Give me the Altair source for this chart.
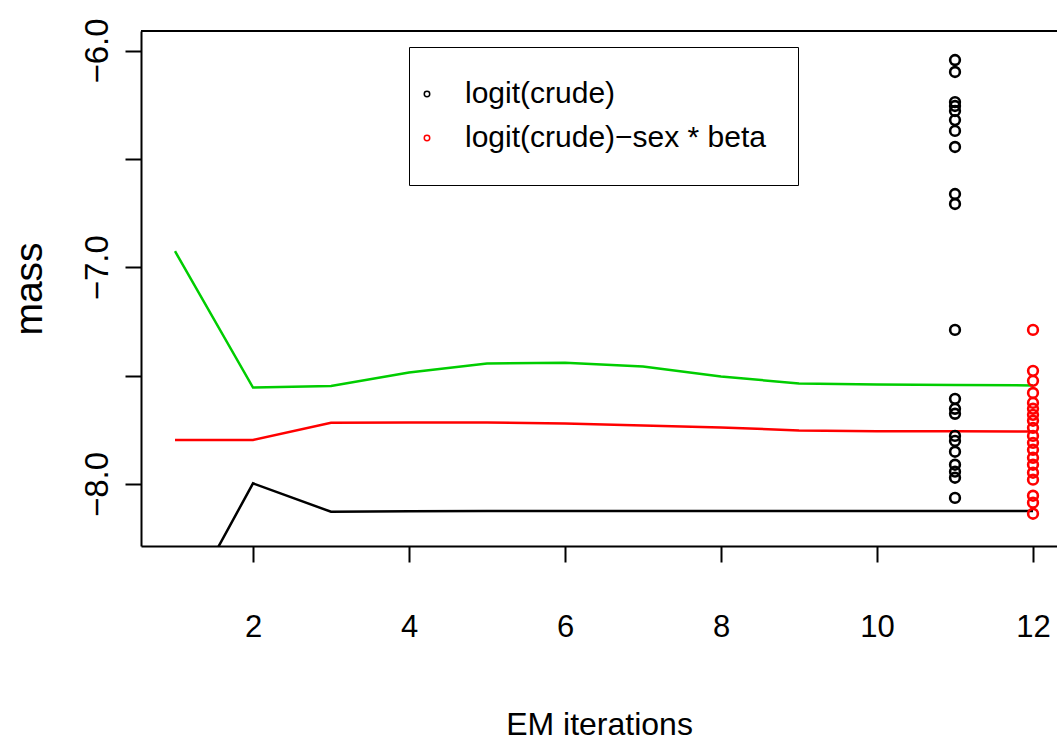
import altair as alt
import pandas as pd

# ---- data ----
iterations = [1, 2, 3, 4, 5, 6, 7, 8, 9, 10, 11, 12]
line_black = [-8.656, -7.997, -8.128, -8.126, -8.125, -8.125, -8.125, -8.125, -8.125, -8.125, -8.125, -8.125]
line_red = [-7.797, -7.797, -7.717, -7.716, -7.716, -7.721, -7.730, -7.739, -7.753, -7.757, -7.757, -7.758]
line_green = [-6.926, -7.555, -7.548, -7.486, -7.444, -7.440, -7.458, -7.504, -7.536, -7.541, -7.543, -7.545]

crude_x = 11
crude_vals = [-6.044, -6.099, -6.238, -6.256, -6.279, -6.321, -6.371, -6.445, -6.662, -6.708,
              -7.289, -7.607, -7.653, -7.676, -7.778, -7.801, -7.851, -7.911, -7.943, -7.971, -8.064]
adj_x = 12
adj_vals = [-7.289, -7.478, -7.524, -7.580, -7.626, -7.653, -7.681, -7.708, -7.741, -7.778,
            -7.810, -7.842, -7.879, -7.911, -7.948, -7.980, -8.054, -8.086, -8.137]

series_names = ["logit(crude)", "logit(crude)\u2212sex * beta"]
series_colors = ["black", "red"]

x_ticks = [2, 4, 6, 8, 10, 12]
y_ticks = [-8.0, -7.5, -7.0, -6.5, -6.0]

# ---- tables ----
lines = pd.concat([
    pd.DataFrame({"iter": iterations, "mass": line_black, "line": "black"}),
    pd.DataFrame({"iter": iterations, "mass": line_red, "line": "red"}),
    pd.DataFrame({"iter": iterations, "mass": line_green, "line": "green"}),
])
pts = pd.concat([
    pd.DataFrame({"iter": crude_x, "mass": crude_vals, "series": series_names[0]}),
    pd.DataFrame({"iter": adj_x, "mass": adj_vals, "series": series_names[1]}),
])

FONT = "Liberation Sans Narrow, Arial Narrow, Liberation Sans"
W, H = 916, 515

# plot box runs past the right edge of the picture (as in the reference)
xscale = alt.Scale(domain=[0.564, 0.564 + W / 78.0], nice=False, zero=False)
yscale = alt.Scale(domain=[-8.286, -5.910], nice=False, zero=False)

xaxis = alt.Axis(values=x_ticks, title="EM iterations", grid=False, format="d",
                 domain=True, domainColor="black", domainWidth=2,
                 tickColor="black", tickWidth=2, tickSize=16,
                 labelFont=FONT, labelFontSize=31, labelColor="black",
                 labelPadding=65, labelFlush=False, labelBaseline="middle",
                 titleFont=FONT, titleFontSize=32, titleFontWeight="normal",
                 titleColor="black", titleY=178, titleBaseline="middle")
yaxis = alt.Axis(values=y_ticks, title="mass", grid=False,
                 domain=True, domainColor="black", domainWidth=2,
                 tickColor="black", tickWidth=2, tickSize=16,
                 labelExpr="datum.value % 1 == 0 ? '\u2212' + format(abs(datum.value), '.1f') : ''",
                 labelFont="Liberation Sans", labelFontSize=33, labelColor="black",
                 labelAngle=-90, labelAlign="center", labelBaseline="middle",
                 labelPadding=28, labelFlush=False,
                 titleFont="Liberation Sans", titleFontSize=39, titleFontWeight="normal",
                 titleColor="black", titleX=-112, titleBaseline="middle", titleAngle=-90)

line_layer = alt.Chart(lines).mark_line(strokeWidth=2.5, clip=True).encode(
    x=alt.X("iter:Q", scale=xscale, axis=xaxis),
    y=alt.Y("mass:Q", scale=yscale, axis=yaxis),
    color=alt.Color("line:N", scale=alt.Scale(domain=["black", "red", "green"],
                                              range=["black", "red", "#00cd00"]), legend=None),
    detail="line:N",
)

point_layer = alt.Chart(pts).mark_point(shape="circle", filled=False, size=95, strokeWidth=2.6,
                                        opacity=1, clip=True).encode(
    x=alt.X("iter:Q", scale=xscale),
    y=alt.Y("mass:Q", scale=yscale),
    stroke=alt.Stroke("series:N", scale=alt.Scale(domain=series_names, range=series_colors),
                      legend=alt.Legend(title=None, orient="none", legendX=268, legendY=16,
                                        strokeColor="black", fillColor="white", padding=32,
                                        rowPadding=14, labelFontSize=30,
                                        labelFont=FONT, labelColor="black",
                                        labelLimit=600, labelOffset=23, symbolOffset=-29,
                                        symbolType="circle",
                                        symbolSize=30, symbolStrokeWidth=1.5,
                                        symbolFillColor="transparent")),
)

# top edge of the plot box
top_edge = alt.Chart(pts).mark_rule(color="black", strokeWidth=2).encode(
    y=alt.value(0), x=alt.value(0), x2=alt.value(W)
)

chart = alt.layer(line_layer, point_layer, top_edge).resolve_scale(color="independent").properties(
    width=W, height=H,
    background="white",
    autosize=alt.AutoSizeParams(type="none"),
    padding={"left": 141, "top": 31, "right": 0, "bottom": 198},
).configure_view(stroke=None)

chart.save("out.html", embed_options={"renderer": "svg", "actions": False})
